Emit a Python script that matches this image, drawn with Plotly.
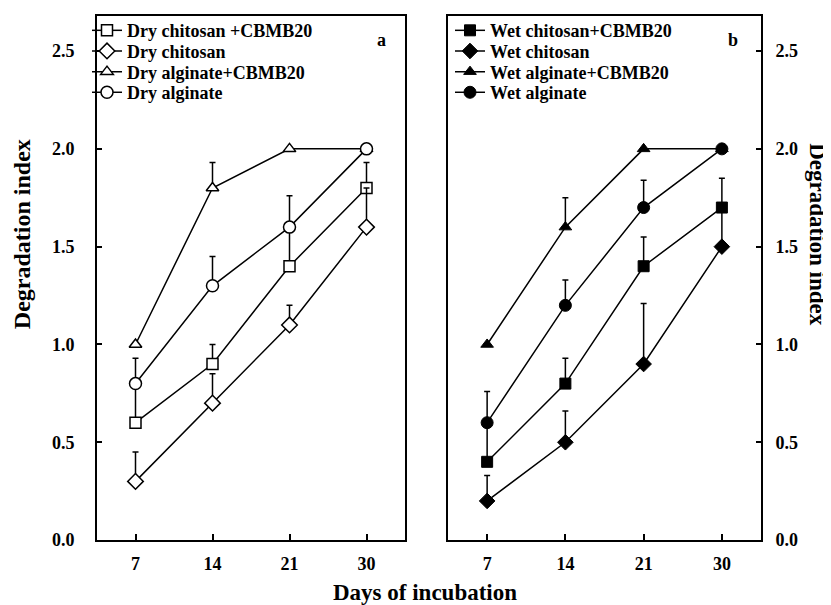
import plotly.graph_objects as go

days = ["7", "14", "21", "30"]

dry_names = ["Dry chitosan +CBMB20", "Dry chitosan", "Dry alginate+CBMB20", "Dry alginate"]
dry_vals = [
    [0.6, 0.9, 1.4, 1.8],
    [0.3, 0.7, 1.1, 1.6],
    [1.0, 1.8, 2.0, 2.0],
    [0.8, 1.3, 1.6, 2.0],
]
dry_err = [
    [0.18, 0.10, 0.20, 0.13],
    [0.15, 0.15, 0.10, 0.20],
    [0.0, 0.13, 0.0, 0.0],
    [0.13, 0.15, 0.16, 0.0],
]

wet_names = ["Wet chitosan+CBMB20", "Wet chitosan", "Wet alginate+CBMB20", "Wet alginate"]
wet_vals = [
    [0.4, 0.8, 1.4, 1.7],
    [0.2, 0.5, 0.9, 1.5],
    [1.0, 1.6, 2.0, 2.0],
    [0.6, 1.2, 1.7, 2.0],
]
wet_err = [
    [0.18, 0.13, 0.15, 0.15],
    [0.13, 0.16, 0.31, 0.18],
    [0.0, 0.15, 0.0, 0.0],
    [0.16, 0.13, 0.14, 0.0],
]

y_ticks = [0.0, 0.5, 1.0, 1.5, 2.0, 2.5]
y_ticktext = ["0.0", "0.5", "1.0", "1.5", "2.0", "2.5"]

FONT = "Liberation Serif, Times New Roman, serif"
W, H = 831, 605

symbols = ["square", "diamond", "triangle-up", "circle"]
sizes = [11, 12, 11, 12]

fig = go.Figure()

for i in range(4):
    fig.add_trace(go.Scatter(
        x=days, y=dry_vals[i], name=dry_names[i], mode="lines+markers",
        line=dict(color="black", width=1.5),
        marker=dict(symbol=symbols[i], size=sizes[i], color="white",
                    line=dict(color="black", width=1.5)),
        error_y=dict(type="data", array=dry_err[i], arrayminus=[0] * 4,
                     color="black", thickness=1.5, width=3),
        xaxis="x", yaxis="y", legend="legend" if i == 0 else f"legend{i + 1}",
    ))

for i in range(4):
    fig.add_trace(go.Scatter(
        x=days, y=wet_vals[i], name=wet_names[i], mode="lines+markers",
        line=dict(color="black", width=1.5),
        marker=dict(symbol=symbols[i], size=sizes[i], color="black",
                    line=dict(color="black", width=1)),
        error_y=dict(type="data", array=wet_err[i], arrayminus=[0] * 4,
                     color="black", thickness=1.5, width=3),
        xaxis="x2", yaxis="y2", legend=f"legend{i + 5}",
    ))

ydom = [(H - 541) / H, (H - 8) / H]
yrange = [0, 2.68]
tickfont = dict(family=FONT, size=18, color="black", weight="bold")

common_x = dict(type="category", range=[-0.5, 3.5], showline=True, linecolor="black",
                linewidth=2, mirror=True, ticks="inside", ticklen=6, tickwidth=1.5,
                tickcolor="black", tickfont=tickfont, showgrid=False, zeroline=False,
                ticklabelstandoff=6)
common_y = dict(range=yrange, domain=ydom, tickvals=y_ticks, ticktext=y_ticktext,
                showline=True, linecolor="black", linewidth=2, mirror=True,
                ticks="inside", ticklen=5, tickwidth=1.5, tickcolor="black",
                tickfont=tickfont, showgrid=False, zeroline=False)

legfont = dict(family=FONT, size=18, color="black", weight="bold")
leg_centers = [23, 44, 65, 86]

layout_legends = {}
for i in range(8):
    key = "legend" if i == 0 else f"legend{i + 1}"
    lx = 79 if i < 4 else 442
    layout_legends[key] = dict(
        x=lx / W, y=1 - leg_centers[i % 4] / H, xanchor="left", yanchor="middle",
        bgcolor="rgba(0,0,0,0)", font=legfont, itemwidth=30, borderwidth=0)

fig.update_layout(
    width=W, height=H,
    margin=dict(l=0, r=0, t=0, b=0),
    paper_bgcolor="white", plot_bgcolor="white",
    xaxis=dict(domain=[89 / W, 397 / W], anchor="y", **common_x),
    yaxis=dict(anchor="x", side="left", ticklabelstandoff=17, **common_y),
    xaxis2=dict(domain=[440 / W, 753 / W], anchor="y2", **common_x),
    yaxis2=dict(anchor="x2", side="right", ticklabelstandoff=9, **common_y),
    showlegend=True,
    annotations=[
        dict(text="a", x=373 / W, y=1 - 33 / H, xref="paper", yref="paper",
             xanchor="center", yanchor="middle", showarrow=False,
             font=dict(family=FONT, size=18, color="black", weight="bold")),
        dict(text="b", x=725 / W, y=1 - 33 / H, xref="paper", yref="paper",
             xanchor="center", yanchor="middle", showarrow=False,
             font=dict(family=FONT, size=18, color="black", weight="bold")),
        dict(text="Degradation index", x=14 / W, y=1 - 230 / H, xref="paper", yref="paper",
             xanchor="center", yanchor="middle", showarrow=False, textangle=-90,
             font=dict(family=FONT, size=24, color="black", weight="bold")),
        dict(text="Degradation index", x=810 / W, y=1 - 230 / H, xref="paper", yref="paper",
             xanchor="center", yanchor="middle", showarrow=False, textangle=90,
             font=dict(family=FONT, size=23, color="black", weight="bold")),
        dict(text="Days of incubation", x=417 / W, y=1 - 594 / H, xref="paper", yref="paper",
             xanchor="center", yanchor="middle", showarrow=False,
             font=dict(family=FONT, size=23, color="black", weight="bold")),
    ],
    **layout_legends,
)

fig.write_html("out.html")
